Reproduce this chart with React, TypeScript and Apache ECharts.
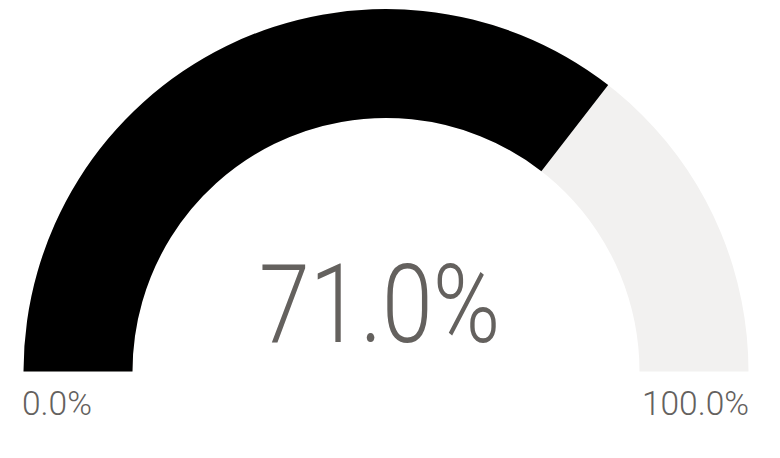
import React, { useEffect, useRef } from "react";
import * as echarts from "echarts";

const gaugeValue: number[] = [71.0];
const gaugeRange: number[] = [0, 100];
const rangeLabels: string[] = ["0.0%", "100.0%"];

const fmt = (v: number) => v.toFixed(1) + "%";

export default function App() {
  const ref = useRef<HTMLDivElement>(null);
  useEffect(() => {
    if (!ref.current) return;
    const chart = echarts.init(ref.current, undefined, { renderer: "svg" });
    const font = "Roboto";
    const grey = "#64615E";
    chart.setOption({
      animation: false,
      backgroundColor: "#ffffff",
      series: [
        {
          type: "gauge",
          startAngle: 180,
          endAngle: 0,
          min: gaugeRange[0],
          max: gaugeRange[1],
          center: [386, 371.5],
          radius: 362.5,
          axisLine: { lineStyle: { width: 109, color: [[1, "#F2F1F0"]] } },
          progress: { show: true, width: 109, itemStyle: { color: "#000000" } },
          pointer: { show: false },
          axisTick: { show: false },
          splitLine: { show: false },
          axisLabel: { show: false },
          anchor: { show: false },
          title: { show: false },
          detail: { show: false },
          data: gaugeValue.map((v) => ({ value: v })),
        },
      ],
      graphic: [
        {
          type: "text",
          x: 259,
          y: 304,
          scaleX: 0.83,
          style: {
            text: fmt(gaugeValue[0]),
            fontFamily: font,
            fontWeight: 300,
            fontSize: 110,
            fill: grey,
            align: "left",
            verticalAlign: "middle",
          },
        },
        {
          type: "text",
          x: 22,
          y: 403.5,
          style: {
            text: rangeLabels[0],
            fontFamily: font,
            fontWeight: 300,
            fontSize: 33.5,
            fill: grey,
            align: "left",
            verticalAlign: "middle",
          },
        },
        {
          type: "text",
          x: 749,
          y: 403.5,
          style: {
            text: rangeLabels[1],
            fontFamily: font,
            fontWeight: 300,
            fontSize: 33.5,
            fill: grey,
            align: "right",
            verticalAlign: "middle",
          },
        },
      ],
    });
    return () => chart.dispose();
  }, []);
  return (
    <div
      ref={ref}
      style={{ position: "fixed", left: 0, top: 0, width: 780, height: 458 }}
    />
  );
}
